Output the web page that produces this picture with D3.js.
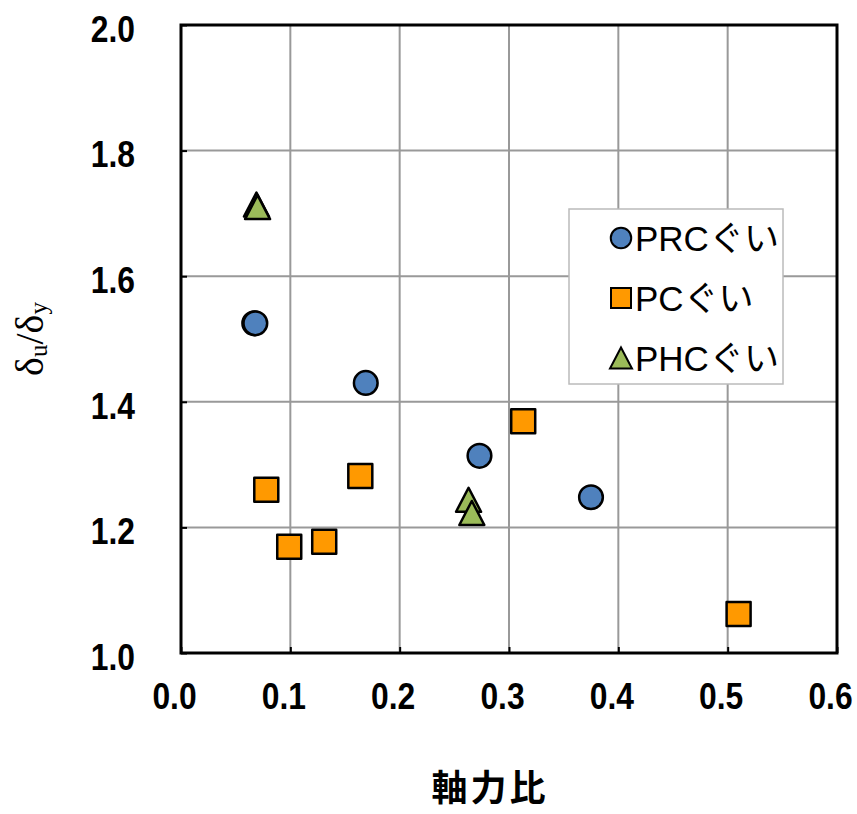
<!DOCTYPE html>
<html>
<head>
<meta charset="utf-8">
<script src="https://cdn.jsdelivr.net/npm/d3@7"></script>
<style>
  body { margin: 0; background: #fff; }
  svg text { font-family: "Liberation Sans", Arial, sans-serif; fill: #000; }
</style>
</head>
<body>
<div id="chart"></div>
<script>
// axial force ratio vs ductility
var prcX = [0.067, 0.068, 0.169, 0.273, 0.375];
var prcY = [1.525, 1.525, 1.430, 1.314, 1.248];
var pcX = [0.078, 0.099, 0.131, 0.164, 0.313, 0.510];
var pcY = [1.260, 1.169, 1.177, 1.282, 1.369, 1.062];
var phcX = [0.069, 0.070, 0.263, 0.266];
var phcY = [1.714, 1.710, 1.244, 1.223];
var seriesNames = ["PRCぐい", "PCぐい", "PHCぐい"];
var xTicks = [0, 0.1, 0.2, 0.3, 0.4, 0.5, 0.6];
var yTicks = [1.0, 1.2, 1.4, 1.6, 1.8, 2.0];

var W = 857, H = 814,
  margin = {top: 25, right: 20, bottom: 161, left: 181},
  width = 837 - margin.left,
  height = 653 - margin.top;

var svg = d3.select("#chart").append("svg")
  .attr("width", W)
  .attr("height", H);

var g = svg.append("g")
  .attr("transform", "translate(" + margin.left + "," + margin.top + ")");

var x = d3.scaleLinear().domain([0, 0.6]).range([0, width]);
var y = d3.scaleLinear().domain([1.0, 2.0]).range([height, 0]);

// grid
g.append("g").selectAll("line")
  .data(xTicks.slice(1, -1)).enter().append("line")
    .attr("x1", function(d) { return x(d); })
    .attr("x2", function(d) { return x(d); })
    .attr("y1", 0).attr("y2", height)
    .attr("stroke", "#999").attr("stroke-width", 2);
g.append("g").selectAll("line")
  .data(yTicks.slice(1, -1)).enter().append("line")
    .attr("y1", function(d) { return y(d); })
    .attr("y2", function(d) { return y(d); })
    .attr("x1", 0).attr("x2", width)
    .attr("stroke", "#999").attr("stroke-width", 2);

// axes
var xAxis = d3.axisBottom(x).tickValues(xTicks).tickSize(-6).tickPadding(30)
  .tickFormat(d3.format(".1f"));
var yAxis = d3.axisLeft(y).tickValues(yTicks).tickSize(-6).tickPadding(46)
  .tickFormat(d3.format(".1f"));

var gx = g.append("g")
  .attr("transform", "translate(0," + height + ")")
  .call(xAxis);
var gy = g.append("g").call(yAxis);

// the original font is a tall, narrow one: squeeze horizontally
var sx = 0.86;
[gx, gy].forEach(function(a) {
  a.select(".domain").remove();
  a.selectAll(".tick line").attr("stroke", "#000").attr("stroke-width", 2);
  a.selectAll(".tick text")
    .style("font-size", "37px")
    .style("font-weight", "bold")
    .attr("transform", "scale(" + sx + ",1)");
});
gx.selectAll(".tick text").attr("dy", "0.71em").attr("x", -7 / sx);
gy.selectAll(".tick text").attr("dy", "0.36em").attr("y", 3).attr("x", -46 / sx);

g.append("rect")
  .attr("width", width).attr("height", height)
  .attr("fill", "none").attr("stroke", "#000").attr("stroke-width", 3);

// axis titles
svg.append("text")
  .attr("x", 490)
  .attr("y", 801)
  .attr("text-anchor", "middle")
  .style("font-family", "'Noto Sans CJK JP', sans-serif")
  .style("font-size", "36px")
  .style("font-weight", "bold")
  .style("letter-spacing", "3px")
  .text("軸力比");

var ylab = svg.append("text")
  .attr("transform", "translate(43,339) rotate(-90)")
  .attr("text-anchor", "middle")
  .style("font-family", "'Liberation Serif', 'Times New Roman', serif")
  .style("font-size", "40px");
ylab.append("tspan").text("δ");
ylab.append("tspan").attr("dy", 4).style("font-size", "25px").text("u");
ylab.append("tspan").attr("dy", -4).text("/δ");
ylab.append("tspan").attr("dy", 4).style("font-size", "25px").text("y");

// markers
var colors = ["#4F81BD", "#FF9900", "#9BBB59"];

// taller-than-equilateral triangle, centred on its bounding box
function triType(w, h) {
  return {
    draw: function(ctx) {
      ctx.moveTo(0, -h / 2);
      ctx.lineTo(w / 2, h / 2);
      ctx.lineTo(-w / 2, h / 2);
      ctx.closePath();
    }
  };
}
var shapes = [d3.symbolCircle, d3.symbolSquare, triType(25, 24)];
var sizes = [440, 576, 0];

function pts(xs, ys) {
  return xs.map(function(v, i) { return [v, ys[i]]; });
}
var series = [pts(prcX, prcY), pts(pcX, pcY), pts(phcX, phcY)];

series.forEach(function(data, si) {
  g.append("g").selectAll("path")
    .data(data).enter().append("path")
      .attr("transform", function(d) {
        return "translate(" + x(d[0]) + "," + y(d[1]) + ")";
      })
      .attr("d", d3.symbol().type(shapes[si]).size(sizes[si]))
      .attr("fill", colors[si])
      .attr("stroke", "#000")
      .attr("stroke-width", 2.5)
      .attr("stroke-linejoin", "round");
});

// legend
var lg = svg.append("g").attr("transform", "translate(569,209)");
lg.append("rect")
  .attr("width", 214).attr("height", 175)
  .attr("fill", "#fff").attr("stroke", "#bbb").attr("stroke-width", 1.5);

var lgShapes = [d3.symbolCircle, d3.symbolSquare, triType(22, 21)];
var items = lg.selectAll(".item")
  .data(seriesNames).enter().append("g")
    .attr("class", "item")
    .attr("transform", function(d, i) { return "translate(52," + (29 + i * 60) + ")"; });

items.append("path")
  .attr("d", function(d, i) {
    return d3.symbol().type(lgShapes[i]).size([330, 400, 0][i])();
  })
  .attr("fill", function(d, i) { return colors[i]; })
  .attr("stroke", "#000")
  .attr("stroke-width", 2);

items.append("text")
  .attr("x", 14)
  .attr("dy", "0.36em")
  .style("font-size", "35px")
  .style("font-family", "'Liberation Sans', 'Noto Sans CJK JP', sans-serif")
  .text(function(d) { return d; });
</script>
</body>
</html>
